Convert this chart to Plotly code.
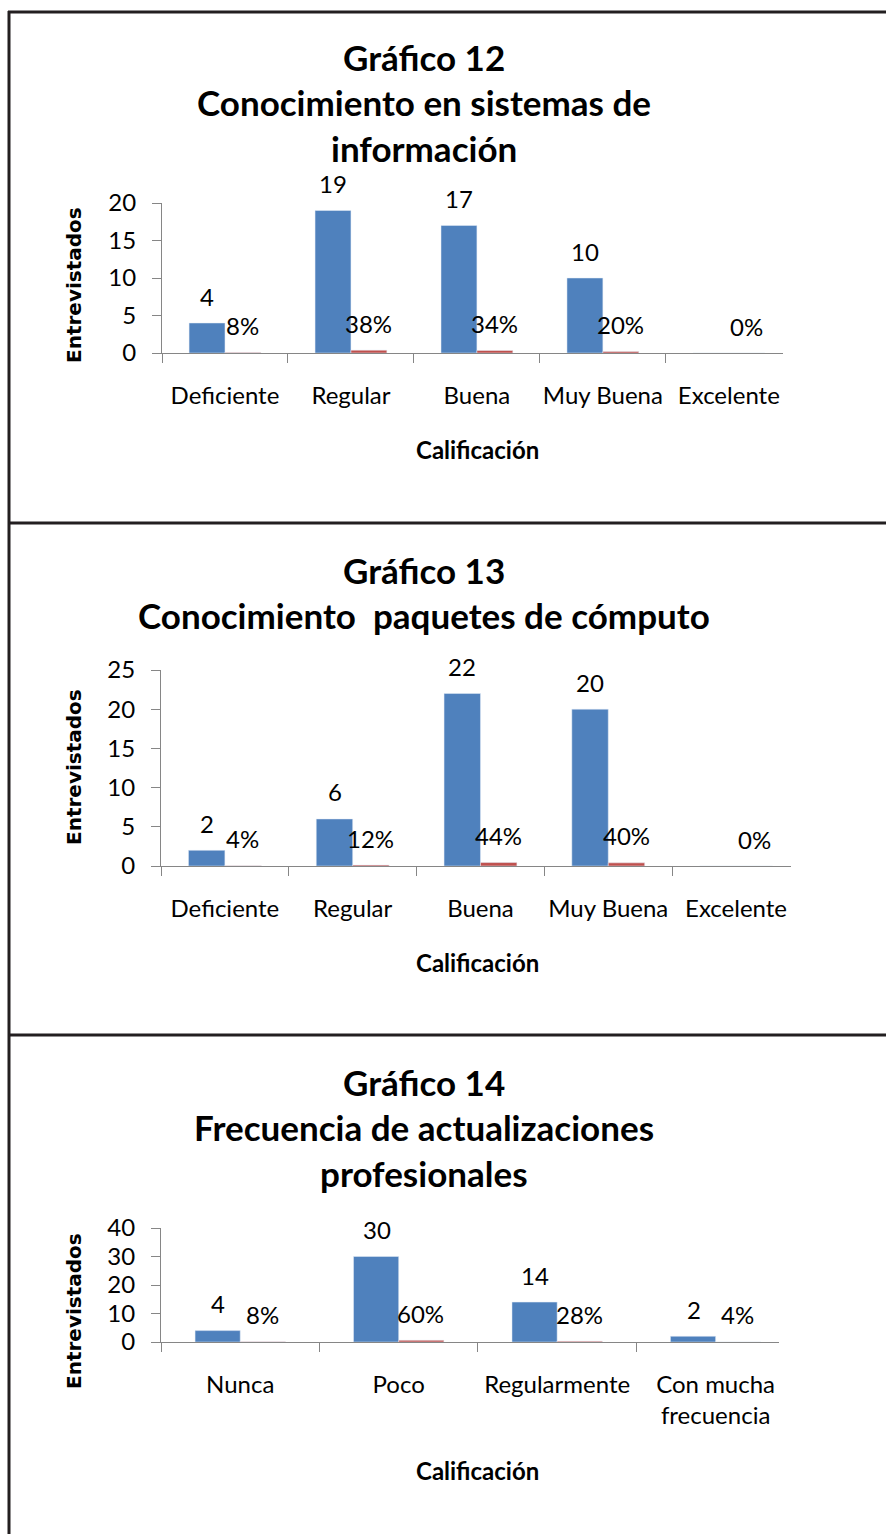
import plotly.graph_objects as go

W, H = 886, 1534
BLUE = "#4F81BD"
RED = "#C0504D"
AXIS_GREY = "#868686"
BORDER = "#231F20"
FONT = "Lato"

# Gráfico 12
cats_12 = ["Deficiente", "Regular", "Buena", "Muy Buena", "Excelente"]
count_12 = [4, 19, 17, 10, 0]
pct_12 = [0.08, 0.38, 0.34, 0.20, 0.0]

# Gráfico 13
cats_13 = ["Deficiente", "Regular", "Buena", "Muy Buena", "Excelente"]
count_13 = [2, 6, 22, 20, 0]
pct_13 = [0.04, 0.12, 0.44, 0.40, 0.0]

# Gráfico 14
cats_14 = ["Nunca", "Poco", "Regularmente", "Con mucha<br>frecuencia"]
count_14 = [4, 30, 14, 2]
pct_14 = [0.08, 0.60, 0.28, 0.04]

titles = [
    ["Gráfico 12", "Conocimiento en sistemas de", "información"],
    ["Gráfico 13", "Conocimiento  paquetes de cómputo"],
    ["Gráfico 14", "Frecuencia de actualizaciones", "profesionales"],
]


def px_x(x):
    return x / W


def px_y(y):
    return 1 - y / H


# pixel layout of each panel: plot box, title lines, axis titles
panels = [
    dict(cats=cats_12, count=count_12, pct=pct_12, ymax=20, dtick=5,
         box=(162, 783, 203, 353), xr=4.43, shift=18,
         title_y=[57, 102, 148], xtitle_y=449, ytitle_y=285),
    dict(cats=cats_13, count=count_13, pct=pct_13, ymax=25, dtick=5,
         box=(161, 791, 670, 866), xr=4.43, shift=18,
         title_y=[570, 615], xtitle_y=962, ytitle_y=767),
    dict(cats=cats_14, count=count_14, pct=pct_14, ymax=40, dtick=10,
         box=(161, 779, 1228, 1342), xr=3.40, shift=22,
         title_y=[1082, 1127, 1173], xtitle_y=1470, ytitle_y=1311),
]

fig = go.Figure()
annotations = []
layout_axes = {}
label_font = dict(family=FONT, size=24, color="#000000")

for i, p in enumerate(panels):
    n = "" if i == 0 else str(i + 1)
    xa, ya = "x" + n, "y" + n
    fig.add_trace(go.Bar(x=p["cats"], y=p["count"], marker_color=BLUE,
                         xaxis=xa, yaxis=ya, showlegend=False))
    fig.add_trace(go.Bar(x=p["cats"], y=p["pct"], marker_color=RED,
                         xaxis=xa, yaxis=ya, showlegend=False))

    x0, x1, y0, y1 = p["box"]
    layout_axes["xaxis" + n] = dict(
        domain=[px_x(x0), px_x(x1)], anchor=ya, type="category",
        range=[-0.5, p["xr"]], showline=True, linecolor=AXIS_GREY, linewidth=1,
        ticks="outside", tickson="boundaries", ticklen=9, tickcolor=AXIS_GREY,
        showgrid=False, tickangle=0, ticklabelstandoff=21, tickfont=label_font,
        automargin=False,
    )
    layout_axes["yaxis" + n] = dict(
        domain=[px_y(y1), px_y(y0)], anchor=xa, range=[0, p["ymax"]],
        dtick=p["dtick"], showline=True, linecolor=AXIS_GREY, linewidth=1,
        ticks="outside", ticklen=9, tickcolor=AXIS_GREY, showgrid=False,
        zeroline=False, ticklabelstandoff=11, tickfont=label_font,
        automargin=False,
    )

    # value labels above bars (Excel hides the zero count label)
    for c, v, pc in zip(p["cats"], p["count"], p["pct"]):
        if v:
            annotations.append(dict(x=c, y=v, xref=xa, yref=ya, text=str(v),
                                    showarrow=False, xshift=-p["shift"], yshift=27,
                                    font=label_font))
        annotations.append(dict(x=c, y=pc, xref=xa, yref=ya, text=f"{pc:.0%}",
                                showarrow=False, xshift=p["shift"], yshift=27,
                                font=label_font))

    # chart title lines
    for line, ty in zip(titles[i], p["title_y"]):
        annotations.append(dict(x=px_x(424), y=px_y(ty), xref="paper", yref="paper",
                                text=f"<b>{line}</b>", showarrow=False,
                                xanchor="center", yanchor="middle",
                                font=dict(family=FONT, size=35, color="#000000")))

    annotations.append(dict(x=px_x(478), y=px_y(p["xtitle_y"]), xref="paper", yref="paper",
                            text="<b>Calificación</b>", showarrow=False,
                            xanchor="center", yanchor="middle",
                            font=dict(family=FONT, size=24, color="#000000")))
    annotations.append(dict(x=px_x(74), y=px_y(p["ytitle_y"]), xref="paper", yref="paper",
                            text="<b>Entrevistados</b>", showarrow=False, textangle=-90,
                            xanchor="center", yanchor="middle",
                            font=dict(family="DejaVu Sans", size=20, color="#000000")))

# panel borders
shapes = []
for by in [12, 523, 1035]:
    shapes.append(dict(type="line", xref="paper", yref="paper",
                       x0=px_x(8), x1=1, y0=px_y(by), y1=px_y(by),
                       line=dict(color=BORDER, width=3)))
shapes.append(dict(type="line", xref="paper", yref="paper",
                   x0=px_x(9), x1=px_x(9), y0=px_y(11), y1=0,
                   line=dict(color=BORDER, width=3)))

fig.update_layout(
    width=W, height=H,
    margin=dict(l=0, r=0, t=0, b=0, pad=0),
    paper_bgcolor="white", plot_bgcolor="white",
    barmode="group", bargap=0.43, bargroupgap=0,
    annotations=annotations, shapes=shapes,
    **layout_axes,
)

# pin the plot to the window corner so the page margin does not shift it
pin = ("var d=document.getElementById('{plot_id}');"
       "d.style.position='fixed';d.style.left='0px';d.style.top='0px';"
       "document.body.style.margin='0';"
       "document.documentElement.style.overflow='hidden';")
fig.write_html("out.html", post_script=pin, config={"displayModeBar": False})
